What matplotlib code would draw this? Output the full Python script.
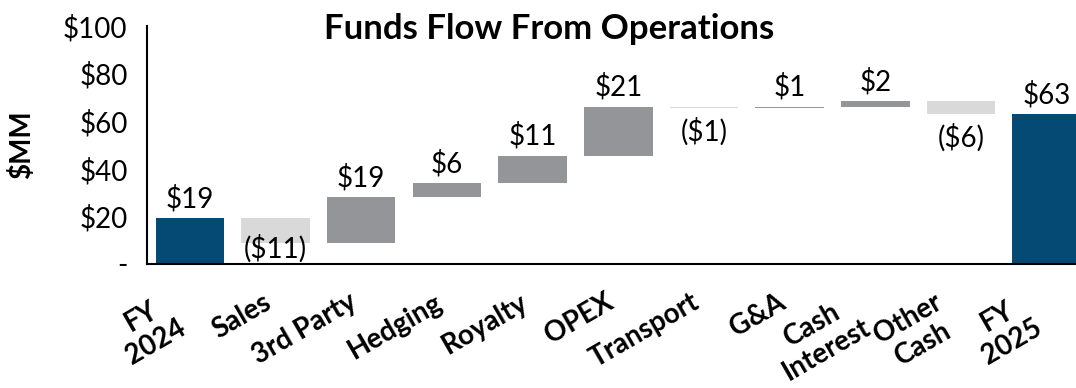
import matplotlib
matplotlib.use("Agg")
import numpy as np
from matplotlib import pyplot as plt

# Funds flow bridge, $MM
categories = ["FY\n2024", "Sales", "3rd Party", "Hedging", "Royalty", "OPEX",
              "Transport", "G&A", "Cash\nInterest", "Other\nCash", "FY\n2025"]
changes = [19.4, -10.6, 19.4, 6.0, 11.4, 20.6, -0.6, 0.6, 2.4, -5.6, 63.0]
is_total = [True, False, False, False, False, False, False, False, False, False, True]
y_ticks = [0, 20, 40, 60, 80, 100]

NAVY = "#054a75"
GAIN = "#939598"
LOSS = "#d9d9d9"

plt.rcParams["font.family"] = ["Lato", "DejaVu Sans"]


def money(v):
    v = int(round(abs(v)))
    return "$%d" % v


def tick_fmt(v):
    return "-" if v == 0 else "$%d" % v


fig = plt.figure(figsize=(10.76, 3.88), dpi=100)
ax = fig.add_axes([0.1366, 0.3196, 0.876, 0.613])

x = np.arange(len(categories))
running = 0.0
for i, (c, tot) in enumerate(zip(changes, is_total)):
    if tot:
        bottom, height, color = 0.0, c, NAVY
        running = c
    else:
        bottom = running if c >= 0 else running + c
        height = abs(c)
        color = GAIN if c >= 0 else LOSS
        running += c
    ax.bar(x[i], height, bottom=bottom, width=0.8, color=color, zorder=2)

    if c >= 0:
        ax.annotate(money(c), (x[i], bottom + height), xytext=(0, 4),
                    textcoords="offset points", ha="center", va="bottom",
                    fontsize=20)
    else:
        # keep the label inside the plot area
        if bottom < 14:
            ax.annotate("(" + money(c) + ")", (x[i], 0), xytext=(0, 1),
                        textcoords="offset points", ha="center", va="bottom",
                        fontsize=20)
        else:
            ax.annotate("(" + money(c) + ")", (x[i], bottom), xytext=(0, -7),
                        textcoords="offset points", ha="center", va="top",
                        fontsize=20)

ax.set_xlim(-0.5, len(categories) - 0.5)
ax.set_ylim(0, 100)
ax.set_yticks(y_ticks)
ax.set_yticklabels([tick_fmt(v) for v in y_ticks], fontsize=20)
ax.set_xticks(x)
ax.set_xticklabels(categories, fontsize=20, fontweight="bold",
                   rotation=30, ha="right", va="top", multialignment="center",
                   linespacing=1.15)
ax.tick_params(axis="x", length=0, pad=18)
ax.tick_params(axis="y", length=0, pad=14)
ax.spines["top"].set_visible(False)
ax.spines["right"].set_visible(False)
ax.spines["left"].set_linewidth(1.5)
ax.spines["bottom"].set_linewidth(1.5)
ax.set_ylabel("$MM", fontsize=20, fontweight="bold", labelpad=20)

fig.text(0.51, 0.925, "Funds Flow From Operations", ha="center", va="center",
         fontsize=25, fontweight="bold")

fig.savefig("out.png", dpi=100)
